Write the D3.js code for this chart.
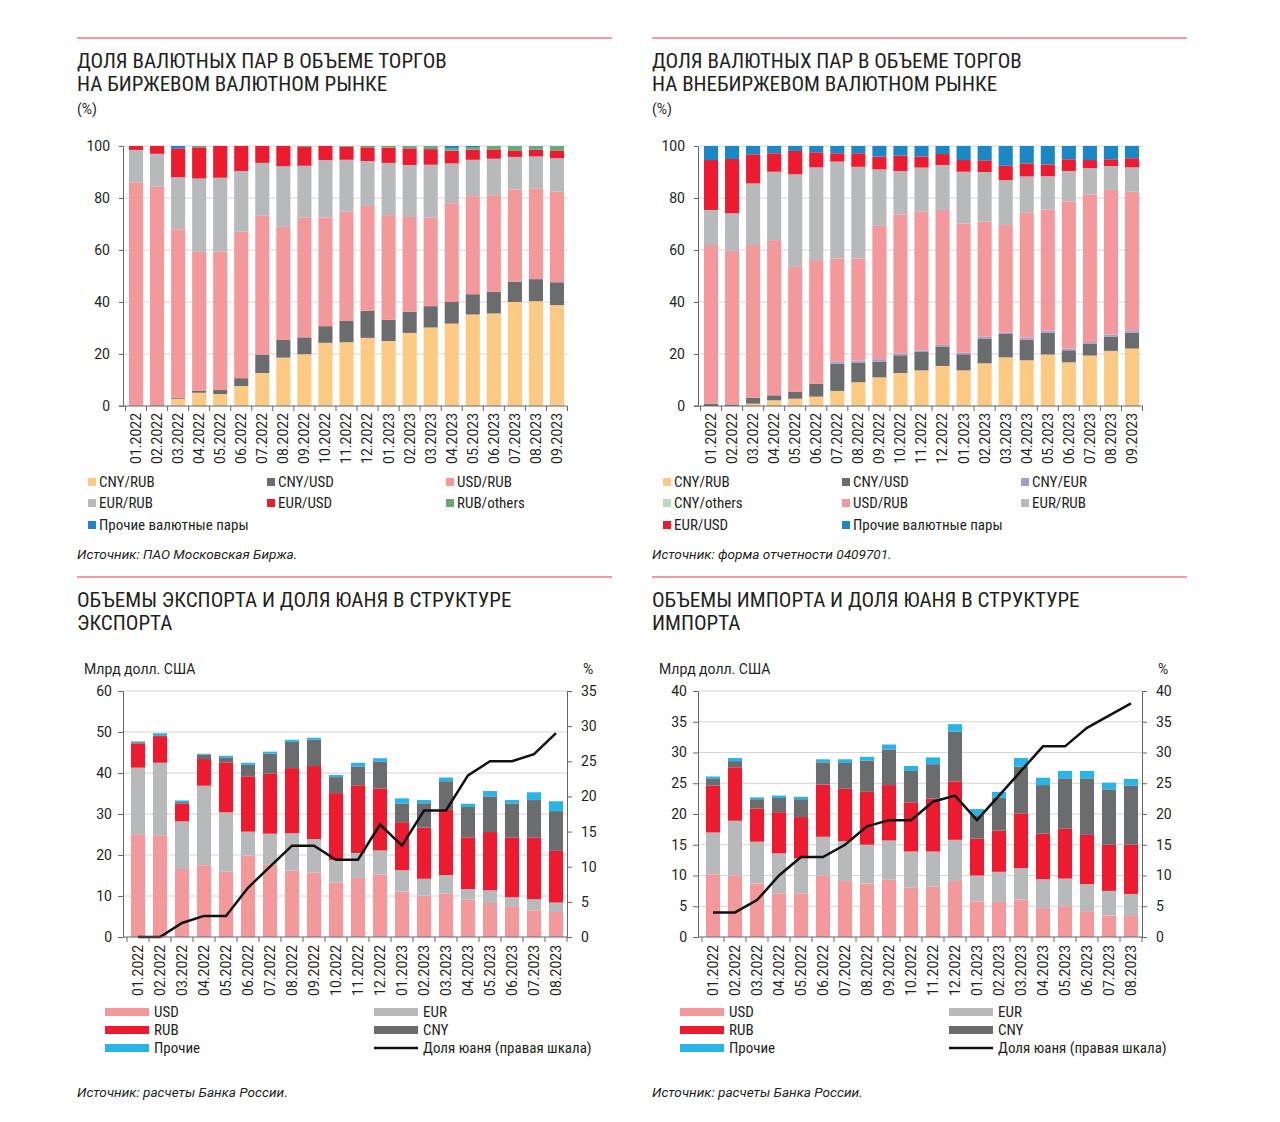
<!DOCTYPE html>
<html>
<head>
<meta charset="utf-8">
<script src="https://cdn.jsdelivr.net/npm/d3@7"></script>
<style>
  body { margin: 0; background: #fff; }
  svg text { font-family: Roboto, "Noto Sans", sans-serif; fill: #231f20; }
  .title { font-family: "Roboto Condensed", "Liberation Sans Narrow", "DejaVu Sans Condensed", Roboto, sans-serif; font-size: 21px; }
  .src { font-style: italic; font-size: 13.6px; }
  .leg { font-family: "Roboto Condensed", "Liberation Sans Narrow", Roboto, sans-serif; font-size: 15px; }
</style>
</head>
<body>
<svg id="chart" width="1280" height="1122"></svg>
<script>
const months = ['01.2022','02.2022','03.2022','04.2022','05.2022','06.2022','07.2022','08.2022','09.2022','10.2022','11.2022','12.2022',
  '01.2023','02.2023','03.2023','04.2023','05.2023','06.2023','07.2023','08.2023','09.2023'];
const tradeMonths = months.slice(0, 20);

// биржевой рынок, %
const exCnyRub  = [0,0,2.8,5.1,4.6,7.7,12.7,18.6,19.9,24.3,24.5,26.2,25,28.1,30.2,31.7,35.2,35.6,40,40.3,38.8];
const exCnyUsd  = [0,0,0.3,0.7,1.6,3,7.1,6.8,6.5,6.4,8.2,10.4,8.2,8.2,8.2,8.3,7.8,8.3,7.8,8.5,8.8];
const exUsdRub  = [86,84.3,64.9,53.5,53.1,56.3,53.4,43.5,46.1,41.8,42,40.3,40.2,36.4,34,38,37.7,37.2,35.5,34.9,34.8];
const exEurRub  = [12.5,12.7,20,28.2,28.5,23.4,20.3,23.3,19.9,22.1,20,17.3,20.1,20,20.4,15.3,14,14,12.5,12.3,12.9];
const exEurUsd  = [1.5,3,11.1,12,12.2,9.6,6.5,7.8,7.2,5.4,5,5.3,5.9,6.4,6,4.9,3.9,3.6,2.5,2.6,3];
const exRubOth  = [0,0,0,0.5,0,0,0,0,0.4,0,0.3,0.5,0.6,0.7,1,0.8,1,1.3,1.5,1.2,1.5];
const exOther   = [0,0,0.9,0,0,0,0,0,0,0,0,0,0,0.2,0.2,1,0.4,0,0.2,0.2,0.2];

// внебиржевой рынок, %
const otcCnyRub = [0,0,0.9,2.2,2.8,3.6,5.8,9.1,11,12.7,13.7,15.4,13.7,16.4,18.7,17.6,19.8,16.8,19.4,21.2,22.1];
const otcCnyUsd = [0.9,0.6,2.3,1.9,2.6,5,10.5,7.5,6,6.8,7.3,7.5,6.2,9.4,9,7.9,8.4,4.6,4.5,5.4,6.1];
const otcCnyEur = [0,0,0,0,0,0,0.7,0.9,1,0.7,0.4,0.6,0.6,0.9,0.5,0.8,0.8,0.7,0.7,0.9,0.9];
const otcCnyOth = [0,0,0,0,0,0,0,0,0,0,0,0,0,0,0,0,0,0,0,0,0];
const otcUsdRub = [61,59.1,58.7,59.7,48.1,47.5,39.7,39.2,51.3,53.5,53.3,51.9,49.7,44.2,41.4,48,46.5,56.6,56.8,55.6,53.3];
const otcEurRub = [13.5,14.4,23.7,26.3,35.6,35.7,37.3,35.3,21.7,16.7,17,17.3,19.9,19.1,17.3,14,12.9,11.7,10.1,9.2,9.4];
const otcEurUsd = [19.2,20.9,11.2,7.1,9,5.8,3.2,5.2,4.9,5.9,4.3,4.2,4.5,4.5,5.5,5,4.5,4.5,3.1,2.6,3.5];
const otcOther  = [5.4,5,3.2,2.8,1.9,2.4,2.8,2.8,4.1,3.7,4,3.1,5.4,5.5,7.6,6.7,7.1,5.1,5.4,5.1,4.7];

// экспорт, млрд долл. США
const expUsd   = [24.9,24.8,16.6,17.5,15.9,19.9,17.6,16.2,15.7,13.3,14.4,15.2,11.1,10.1,10.6,9.1,8.3,7.5,6.5,6.1];
const expEur   = [16.4,17.7,11.6,19.4,14.5,5.8,7.6,9.1,8.2,5.5,6.1,5.9,5.2,4.1,4.5,2.6,3.1,2.2,2.7,2.3];
const expRub   = [5.9,6.5,4.3,6.5,12.2,13.5,14.7,15.9,17.8,16.3,16.5,15.1,11.7,12.5,15.9,12.6,14.2,14.6,15.1,12.6];
const expCny   = [0.3,0.2,0.4,1.1,1.2,2.8,4.8,6.4,6.4,3.9,4.6,6.6,4.5,5.9,7,7.4,8.7,8.2,9.1,9.7];
const expOther = [0.2,0.5,0.4,0.2,0.4,0.5,0.5,0.5,0.5,0.5,0.9,0.8,1.3,0.8,0.9,0.8,1.3,0.9,1.9,2.4];
const expCnyShare = [0,0,2,3,3,7,10,13,13,11,11,16,13,18,18,23,25,25,26,29];

// импорт, млрд долл. США
const impUsd   = [10.2,10,8.7,7.1,7.1,10,9.1,8.7,9.3,8,8.2,9.1,5.8,5.7,6.1,4.7,5,4.2,3.5,3.4];
const impEur   = [6.8,8.9,6.8,6.5,5.7,6.3,6.5,6.3,6.4,5.9,5.7,6.7,4.2,4.9,5.1,4.7,4.5,4.4,4,3.6];
const impRub   = [7.6,8.7,5.4,6.7,6.7,8.5,8.5,8.6,9,8,8.6,9.5,6,6.7,8.9,7.4,8.1,8,7.5,8];
const impCny   = [1.1,1,1.5,2.3,2.9,3.6,4.2,5.1,5.8,5.1,5.6,8.1,3.8,5.4,7.6,7.9,8.2,9.2,9,9.6];
const impOther = [0.4,0.5,0.3,0.4,0.4,0.5,0.6,0.6,0.8,0.8,1.1,1.2,1,0.9,1.4,1.2,1.2,1.2,1.1,1.1];
const impCnyShare = [4,4,6,10,13,13,15,18,19,19,22,23,19,23,27,31,31,34,36,38];

const C = {
  orange: '#fdca84', dark: '#6b6c6e', pink: '#f4999b', gray: '#b8b9bb', red: '#ec1b30',
  green: '#6aaa72', blue: '#1b87c4', purple: '#a49ecb', lgreen: '#b4dbb9', cyan: '#27b4e6'
};

const svg = d3.select('#chart');

function header(g, lines, top) {
  g.append('line').attr('x1', 77).attr('x2', 612).attr('y1', top).attr('y2', top)
    .attr('stroke', '#e87a84').attr('stroke-width', 1.5);
  lines.forEach((t, i) => {
    g.append('text').attr('class', 'title').attr('x', 77).attr('y', top + 30 + i * 23).text(t);
  });
}

function xLabels(g, x, y0) {
  g.append('g').selectAll('text').data(x.domain()).join('text')
    .attr('transform', d => `translate(${x(d) + x.bandwidth() / 2},${y0}) rotate(-90)`)
    .attr('text-anchor', 'end').attr('dy', '0.35em')
    .style('font-size', '14px').text(d => d);
}

function xAxisLine(g, x, y, left) {
  const r = x.range();
  const gap = (x.step() - x.bandwidth()) / 2;
  g.append('line').attr('x1', left).attr('x2', r[1]).attr('y1', y).attr('y2', y).attr('stroke', '#666');
  const edges = x.domain().map(d => x(d) - gap).concat([r[1]]);
  g.append('g').selectAll('line').data(edges).join('line')
    .attr('x1', d => d).attr('x2', d => d).attr('y1', y).attr('y2', y + 5).attr('stroke', '#666');
}

function styleAxis(a) {
  a.selectAll('path, line').attr('stroke', '#666');
  a.selectAll('text').style('font-size', '14px').attr('fill', '#231f20');
}

function drawShare(cfg) {
  const g = svg.append('g').attr('transform', `translate(${cfg.ox},0)`);
  header(g, cfg.title, 38);
  g.append('text').attr('x', 77).attr('y', 114).style('font-size', '14px').text('(%)');

  const x = d3.scaleBand(months, [125.5, 567.5]).paddingInner(0.33).paddingOuter(0.165);
  const y = d3.scaleLinear([0, 100], [406, 146]);

  g.append('g').selectAll('line').data(y.ticks(5).filter(d => d > 0)).join('line')
    .attr('x1', 123).attr('x2', 567.5).attr('y1', d => y(d)).attr('y2', d => y(d))
    .attr('stroke', '#d6d6d6');

  const rows = months.map((m, i) => {
    const r = { month: m };
    cfg.series.forEach(s => { r[s.name] = s.values[i]; });
    return r;
  });
  const stacked = d3.stack().keys(cfg.series.map(s => s.name))(rows);
  g.append('g').selectAll('g').data(stacked).join('g')
    .attr('fill', (d, i) => cfg.series[i].color)
    .selectAll('rect').data(d => d).join('rect')
    .attr('x', d => x(d.data.month)).attr('width', x.bandwidth())
    .attr('y', d => y(d[1])).attr('height', d => y(d[0]) - y(d[1]));

  const ya = g.append('g').attr('transform', 'translate(123,0)')
    .call(d3.axisLeft(y).ticks(5).tickSize(4).tickPadding(9));
  styleAxis(ya);
  xAxisLine(g, x, 406, 119);
  xLabels(g, x, 413);

  const colX = [88, 267, 446];
  const rowY = [482, 503, 525];
  cfg.series.forEach(s => {
    const lx = colX[s.col], ly = rowY[s.row];
    g.append('rect').attr('x', lx).attr('y', ly - 4).attr('width', 8).attr('height', 8).attr('fill', s.color);
    g.append('text').attr('class', 'leg').attr('x', lx + 11).attr('y', ly).attr('dy', '0.35em')
      .text(s.label || s.name);
  });
  g.append('text').attr('class', 'src').attr('x', 77).attr('y', 559).text(cfg.source);
}

function drawTrade(cfg) {
  const g = svg.append('g').attr('transform', `translate(${cfg.ox},0)`);
  header(g, cfg.title, 577);
  g.append('text').attr('x', 84).attr('y', 674).style('font-size', '14px').text('Млрд долл. США');
  g.append('text').attr('x', 583).attr('y', 674).style('font-size', '14px').text('%');

  const x = d3.scaleBand(tradeMonths, [127, 567]).paddingInner(0.36).paddingOuter(0.18);
  const y = d3.scaleLinear([0, cfg.yMax], [937, 691]);
  const yr = d3.scaleLinear([0, cfg.rMax], [937, 691]);

  g.append('g').selectAll('line').data(d3.range(cfg.yStep, cfg.yMax + 0.1, cfg.yStep)).join('line')
    .attr('x1', 123).attr('x2', 567).attr('y1', d => y(d)).attr('y2', d => y(d))
    .attr('stroke', '#d6d6d6');

  const rows = tradeMonths.map((m, i) => {
    const r = { month: m };
    cfg.series.forEach(s => { r[s.name] = s.values[i]; });
    return r;
  });
  const stacked = d3.stack().keys(cfg.series.map(s => s.name))(rows);
  g.append('g').selectAll('g').data(stacked).join('g')
    .attr('fill', (d, i) => cfg.series[i].color)
    .selectAll('rect').data(d => d).join('rect')
    .attr('x', d => x(d.data.month)).attr('width', x.bandwidth())
    .attr('y', d => y(d[1])).attr('height', d => y(d[0]) - y(d[1]));

  const line = d3.line()
    .x((d, i) => x(tradeMonths[i]) + x.bandwidth() / 2)
    .y(d => yr(d));
  g.append('path').datum(cfg.share).attr('d', line)
    .attr('fill', 'none').attr('stroke', '#111').attr('stroke-width', 2.5).attr('stroke-linejoin', 'miter');

  const ya = g.append('g').attr('transform', 'translate(123,0)')
    .call(d3.axisLeft(y).tickValues(d3.range(0, cfg.yMax + 0.1, cfg.yStep)).tickSize(5).tickPadding(6));
  styleAxis(ya);
  const yb = g.append('g').attr('transform', 'translate(567,0)')
    .call(d3.axisRight(yr).tickValues(d3.range(0, cfg.rMax + 0.1, 5)).tickSize(5).tickPadding(9));
  styleAxis(yb);
  xAxisLine(g, x, 937, 123);
  xLabels(g, x, 945);

  const legend = [
    { label: 'USD', color: C.pink, col: 0, row: 0 },
    { label: 'RUB', color: C.red, col: 0, row: 1 },
    { label: 'Прочие', color: C.cyan, col: 0, row: 2 },
    { label: 'EUR', color: C.gray, col: 1, row: 0 },
    { label: 'CNY', color: C.dark, col: 1, row: 1 },
    { label: 'Доля юаня (правая шкала)', color: '#111', col: 1, row: 2, line: true }
  ];
  const colX = [105, 374], rowY = [1012, 1030, 1048];
  legend.forEach(l => {
    const lx = colX[l.col], ly = rowY[l.row];
    if (l.line) {
      g.append('line').attr('x1', lx).attr('x2', lx + 44).attr('y1', ly).attr('y2', ly)
        .attr('stroke', l.color).attr('stroke-width', 2.5);
    } else {
      g.append('rect').attr('x', lx).attr('y', ly - 4).attr('width', 44).attr('height', 8).attr('fill', l.color);
    }
    g.append('text').attr('class', 'leg').attr('x', lx + 49).attr('y', ly).attr('dy', '0.35em')
      .text(l.label);
  });
  g.append('text').attr('class', 'src').attr('x', 77).attr('y', 1097).text('Источник: расчеты Банка России.');
}

drawShare({
  ox: 0,
  title: ['ДОЛЯ ВАЛЮТНЫХ ПАР В ОБЪЕМЕ ТОРГОВ', 'НА БИРЖЕВОМ ВАЛЮТНОМ РЫНКЕ'],
  source: 'Источник: ПАО Московская Биржа.',
  series: [
    { name: 'CNY/RUB', values: exCnyRub, color: C.orange, col: 0, row: 0 },
    { name: 'CNY/USD', values: exCnyUsd, color: C.dark, col: 1, row: 0 },
    { name: 'USD/RUB', values: exUsdRub, color: C.pink, col: 2, row: 0 },
    { name: 'EUR/RUB', values: exEurRub, color: C.gray, col: 0, row: 1 },
    { name: 'EUR/USD', values: exEurUsd, color: C.red, col: 1, row: 1 },
    { name: 'RUB/others', values: exRubOth, color: C.green, col: 2, row: 1 },
    { name: 'Прочие валютные пары', values: exOther, color: C.blue, col: 0, row: 2 }
  ]
});

drawShare({
  ox: 575,
  title: ['ДОЛЯ ВАЛЮТНЫХ ПАР В ОБЪЕМЕ ТОРГОВ', 'НА ВНЕБИРЖЕВОМ ВАЛЮТНОМ РЫНКЕ'],
  source: 'Источник: форма отчетности 0409701.',
  series: [
    { name: 'CNY/RUB', values: otcCnyRub, color: C.orange, col: 0, row: 0 },
    { name: 'CNY/USD', values: otcCnyUsd, color: C.dark, col: 1, row: 0 },
    { name: 'CNY/EUR', values: otcCnyEur, color: C.purple, col: 2, row: 0 },
    { name: 'CNY/others', values: otcCnyOth, color: C.lgreen, col: 0, row: 1 },
    { name: 'USD/RUB', values: otcUsdRub, color: C.pink, col: 1, row: 1 },
    { name: 'EUR/RUB', values: otcEurRub, color: C.gray, col: 2, row: 1 },
    { name: 'EUR/USD', values: otcEurUsd, color: C.red, col: 0, row: 2 },
    { name: 'Прочие валютные пары', values: otcOther, color: C.blue, col: 1, row: 2 }
  ]
});

drawTrade({
  ox: 0,
  title: ['ОБЪЕМЫ ЭКСПОРТА И ДОЛЯ ЮАНЯ В СТРУКТУРЕ', 'ЭКСПОРТА'],
  yMax: 60, yStep: 10, rMax: 35,
  share: expCnyShare,
  series: [
    { name: 'USD', values: expUsd, color: C.pink },
    { name: 'EUR', values: expEur, color: C.gray },
    { name: 'RUB', values: expRub, color: C.red },
    { name: 'CNY', values: expCny, color: C.dark },
    { name: 'Прочие', values: expOther, color: C.cyan }
  ]
});

drawTrade({
  ox: 575,
  title: ['ОБЪЕМЫ ИМПОРТА И ДОЛЯ ЮАНЯ В СТРУКТУРЕ', 'ИМПОРТА'],
  yMax: 40, yStep: 5, rMax: 40,
  share: impCnyShare,
  series: [
    { name: 'USD', values: impUsd, color: C.pink },
    { name: 'EUR', values: impEur, color: C.gray },
    { name: 'RUB', values: impRub, color: C.red },
    { name: 'CNY', values: impCny, color: C.dark },
    { name: 'Прочие', values: impOther, color: C.cyan }
  ]
});
</script>
</body>
</html>
